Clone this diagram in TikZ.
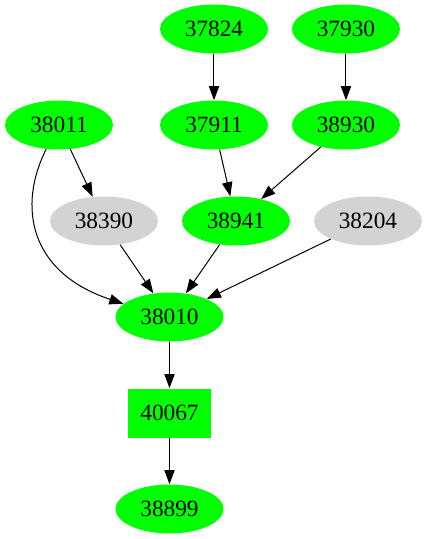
\documentclass[tikz,border=0pt]{standalone}
\usepackage{fontspec}
\setmainfont{Liberation Serif}
\usetikzlibrary{shapes.geometric,arrows.meta}
\definecolor{gvgreen}{HTML}{00FF00}
\definecolor{gvgray}{HTML}{D3D3D3}
\tikzset{
  gnode/.style={ellipse, fill=gvgreen, minimum width=64.8pt, minimum height=29.4pt, inner sep=0pt, font=\fontsize{14}{16}\selectfont},
  grnode/.style={gnode, fill=gvgray},
  gbox/.style={rectangle, fill=gvgreen, minimum width=50.4pt, minimum height=29.4pt, inner sep=0pt, font=\fontsize{14}{16}\selectfont},
  edge/.style={-{Triangle[length=8.5pt,width=6.2pt]}, line width=0.6pt, black}
}
\begin{document}
\begin{tikzpicture}[x=0.6pt,y=-0.6pt]
\useasboundingbox (0,0) rectangle (427,539);
\node[gnode] (n37824) at (214,29) {37824};
\node[gnode] (n37930) at (346,29) {37930};
\node[gnode] (n38011) at (59,125) {38011};
\node[gnode] (n37911) at (214,125) {37911};
\node[gnode] (n38930) at (346,125) {38930};
\node[grnode] (n38390) at (104,221) {38390};
\node[gnode] (n38941) at (236,221) {38941};
\node[grnode] (n38204) at (368,221) {38204};
\node[gnode] (n38010) at (169.5,317) {38010};
\node[gbox] (n40067) at (169.5,413) {40067};
\node[gnode] (n38899) at (169.5,509) {38899};
\draw[edge] (n37824) -- (n37911);
\draw[edge] (n37930) -- (n38930);
\draw[edge] (n38011) -- (n38390);
\draw[edge] (n38011.242) .. controls (18,205) and (28,272) .. (n38010.164);
\draw[edge] (n37911) -- (n38941);
\draw[edge] (n38930) -- (n38941);
\draw[edge] (n38390) -- (n38010);
\draw[edge] (n38941) -- (n38010);
\draw[edge] (n38204) -- (n38010);
\draw[edge] (n38010) -- (n40067);
\draw[edge] (n40067) -- (n38899);
\end{tikzpicture}
\end{document}
